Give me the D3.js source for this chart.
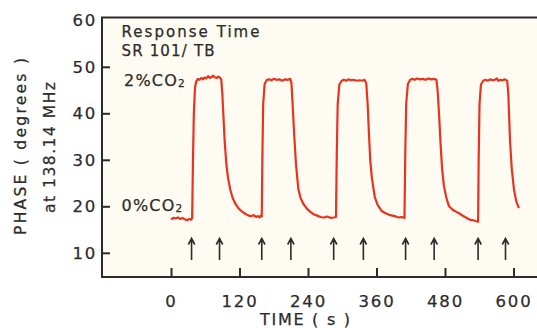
<!DOCTYPE html>
<html><head><meta charset="utf-8">
<script src="https://cdn.jsdelivr.net/npm/d3@7"></script>
<style>
html,body{margin:0;padding:0;background:#fff;}
svg{display:block;}
text{font-family:"DejaVu Sans",sans-serif;fill:#2b2b2b;stroke:#2b2b2b;stroke-width:0.25px;}
</style></head>
<body><svg id="c" width="537" height="328"></svg>
<script>
// time (s)
const times = [0,4,8,12,16,20,24,28,32,35,37,38.5,40,42,44,47,50,53,56,59,62,65,68,71,74,77,80,83,86,88,90,92,94,97,100,104,108,113,118,124,130,136,141,145,149,152,155,157,159,
160,161.5,164,168,172,176,180,185,190,195,200,205,209,211,213,216,219,223,227,232,238,244,250,256,262,268,274,280,285,289,
290.5,292,295,299,303,307,311,315,320,325,330,335,339,342,344.5,347,349,352,357,362,369,376,384,392,398,404,409,
410.5,412,415,419,423,427,431,436,441,446,451,456,461,465,467,469.5,472,475,478,482,487,494,500,506,512,518,524,530,535,538,
539,540.5,543,547,551,555,559,563,567,571,573,577,581,585,589,591,594,597,601,605,609.5];
// phase (degrees)
const phase = [17.2,17.5,17.4,17.6,17.3,17.5,17.2,17.0,17.3,17.1,17.4,30,40,45.5,46.8,47.4,47.2,47.6,47.3,47.7,47.5,48.0,47.6,47.8,48.1,47.7,47.6,47.9,47.6,47.3,44,39,34,29,26,23.5,21.8,20.5,19.6,18.9,18.4,18.0,17.9,18.1,17.7,17.9,17.6,18.0,17.8,
30,42,46.3,47.2,47.3,47.1,47.4,47.2,47.3,47.0,47.3,47.2,47.4,46.5,42,35,29,23.8,21.8,20.5,19.5,18.8,18.3,18.0,17.7,17.6,17.8,17.5,17.6,17.7,
32,42,46.2,47.0,47.2,47.0,47.3,47.1,47.2,47.0,47.1,47.0,47.2,46.5,42,35,30,26,22,20.3,19.0,18.5,18.1,17.9,17.6,17.7,17.5,
32,42,46.3,47.2,47.4,47.2,47.5,47.3,47.4,47.2,47.5,47.3,47.4,47.2,45,40,34,28,24.5,22,20,19.2,18.8,18.4,17.9,17.5,17.1,17.0,16.8,16.7,
30,42,46.2,47.0,47.2,47.0,47.3,47.1,47.2,47.5,47.0,47.2,47.1,47.3,47.0,44,34,28,23.5,21,19.6];
const xTicks = [0,120,240,360,480,600];
const yTicks = [10,20,30,40,50,60];
const arrowTimes = [36,85,159,210,285,337,411,461,538,586];

const svg = d3.select("#c");
const L=102, R=537, T=17.5, B=277;
const x = d3.scaleLinear().domain([-120.9,641.2]).range([L,R]);
const y = d3.scaleLinear().domain([4.8,60.6]).range([B,T]);
const ink = "#2b2b2b";

svg.append("rect").attr("x",L).attr("y",T).attr("width",R-L).attr("height",B-T).attr("fill","#fdfbf2");

// frame
svg.append("path").attr("d",`M${R},${T}H${L}V${B}H${R}`).attr("fill","none").attr("stroke",ink).attr("stroke-width",2);

// x axis
const xa = svg.append("g").attr("transform",`translate(0,${B})`)
  .call(d3.axisBottom(x).tickValues(xTicks).tickSizeInner(-9).tickSizeOuter(0).tickPadding(18));
xa.select(".domain").remove();
xa.selectAll("line").attr("stroke",ink).attr("stroke-width",2);
xa.selectAll("text").attr("font-size",16.5).attr("letter-spacing","1.8px").attr("font-family","DejaVu Sans").attr("fill",ink);

// y axis
const ya = svg.append("g").attr("transform",`translate(${L},0)`)
  .call(d3.axisLeft(y).tickValues(yTicks).tickSizeInner(-8).tickSizeOuter(0).tickPadding(5));
ya.select(".domain").remove();
ya.selectAll("line").attr("stroke",ink).attr("stroke-width",2).attr("display",d=>d===60?"none":null);
ya.selectAll("text").attr("font-size",16.5).attr("letter-spacing","1.8px").attr("font-family","DejaVu Sans").attr("fill",ink);

// curve
const data = times.map((t,i)=>[t,phase[i]]);
svg.append("path").datum(data)
  .attr("d", d3.line().x(d=>x(d[0])).y(d=>y(d[1])))
  .attr("fill","none").attr("stroke","#e8341f").attr("stroke-width",2.2).attr("stroke-linejoin","round");

// arrows
const ag = svg.append("g").attr("stroke",ink).attr("stroke-width",1.6).attr("fill","none");
arrowTimes.forEach(t=>{
  const ax = x(t);
  ag.append("path").attr("d",`M${ax},260V238.5M${ax-3.2},244.5L${ax},238.5L${ax+3.2},244.5`);
});

// texts
function txt(s,xx,yy,len,size){
  const t = svg.append("text").attr("x",xx).attr("y",yy).attr("font-size",size).text(s);
  if(len) t.attr("textLength",len).attr("lengthAdjust","spacing");
  return t;
}
txt("Response  Time",121.5,36.5,138,15);
txt("SR 101/ TB",121.5,56,93,15);
const t2 = svg.append("text").attr("x",124).attr("y",85.5).attr("font-size",16);
t2.append("tspan").attr("letter-spacing","1.2px").text("2%CO");
t2.append("tspan").attr("font-size",10.5).attr("dy",1).text("2");
const t0 = svg.append("text").attr("x",121.5).attr("y",211).attr("font-size",16);
t0.append("tspan").attr("letter-spacing","1.2px").text("0%CO");
t0.append("tspan").attr("font-size",10.5).attr("dy",1).text("2");

txt("TIME  ( s )",260,325,90,16);
svg.append("text").attr("transform","translate(25.5,146.5) rotate(-90)").attr("text-anchor","middle")
  .attr("font-size",15.5).attr("textLength",177).attr("lengthAdjust","spacing").text("PHASE  ( degrees )");
svg.append("text").attr("transform","translate(54.5,147.5) rotate(-90)").attr("text-anchor","middle")
  .attr("font-size",15.5).attr("textLength",131).attr("lengthAdjust","spacing").text("at 138.14 MHz");
</script></body></html>
